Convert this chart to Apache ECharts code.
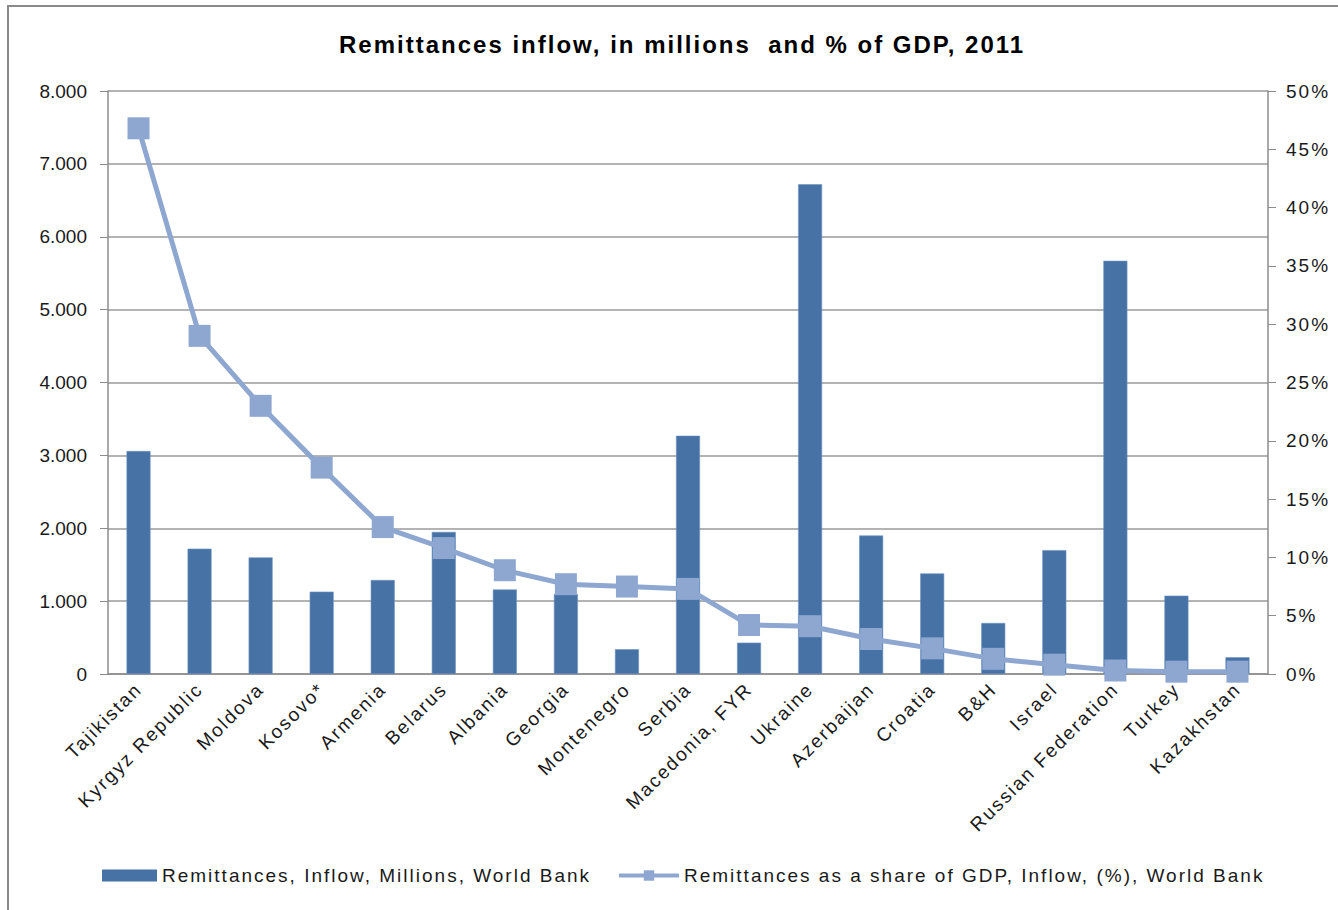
<!DOCTYPE html>
<html>
<head>
<meta charset="utf-8">
<title>Remittances inflow, 2011</title>
<script src="https://cdn.jsdelivr.net/npm/echarts@6/dist/echarts.min.js"></script>
<style>
  html, body { margin: 0; padding: 0; background: #ffffff; }
  #chart { width: 1338px; height: 910px; }
  /* loose Office-style tracking on titles, category names and legend */
  #chart text { letter-spacing: 2px; }
  /* value labels on the left axis keep normal tracking */
  #chart text[style*="Arial"], #chart text[font-family*="Arial"] { letter-spacing: 0; }
</style>
</head>
<body>
<div id="chart"></div>
<script>
// Countries, ordered by remittances as a share of GDP
const countries = [
  'Tajikistan', 'Kyrgyz Republic', 'Moldova', 'Kosovo*', 'Armenia', 'Belarus',
  'Albania', 'Georgia', 'Montenegro', 'Serbia', 'Macedonia, FYR', 'Ukraine',
  'Azerbaijan', 'Croatia', 'B&H', 'Israel', 'Russian Federation', 'Turkey', 'Kazakhstan'
];

// Remittances inflow, millions USD
const inflowMillions = [
  3060, 1720, 1600, 1130, 1290, 1950,
  1160, 1100, 340, 3270, 430, 6720,
  1900, 1380, 700, 1700, 5670, 1075, 230
];

// Remittances as a share of GDP, %
const shareOfGdp = [
  46.8, 29.0, 23.0, 17.7, 12.6, 10.8,
  8.9, 7.7, 7.5, 7.3, 4.2, 4.1,
  3.0, 2.2, 1.3, 0.8, 0.3, 0.2, 0.2
];

const seriesNames = [
  'Remittances, Inflow, Millions, World Bank',
  'Remittances as a share of GDP, Inflow, (%), World Bank'
];

const barColor = '#4672A6';
const lineColor = '#8EA7D1';
const textColor = '#1a1a1a';
const axisGray = '#8c8c8c';
const fontFamily = '"Liberation Sans", sans-serif';
const valueFont = 'Arial';

// 8000 -> "8.000"
function thousands(v) {
  return String(v).replace(/\B(?=(\d{3})+(?!\d))/g, '.');
}

const chart = echarts.init(document.getElementById('chart'), null, { renderer: 'svg' });

const legendText = { fontFamily: fontFamily, fontSize: 19, color: textColor };

chart.setOption({
  backgroundColor: '#ffffff',
  animation: false,
  textStyle: { fontFamily: fontFamily },
  graphic: [{
    type: 'rect',
    shape: { x: 8, y: 6, width: 1400, height: 1000 },
    style: { fill: 'none', stroke: '#8a8a8a', lineWidth: 2 },
    silent: true,
    z: -1
  }],
  title: {
    text: 'Remittances inflow, in millions  and % of GDP, 2011',
    left: 339,
    top: 32,
    padding: 0,
    textStyle: { fontFamily: fontFamily, fontSize: 24, fontWeight: 'bold', color: '#000' }
  },
  legend: [
    {
      left: 102,
      top: 866,
      padding: 0,
      itemWidth: 55,
      itemHeight: 12,
      textStyle: legendText,
      data: [{ name: seriesNames[0], icon: 'rect', itemStyle: { borderWidth: 0 } }]
    },
    {
      left: 617,
      top: 866,
      padding: 0,
      itemWidth: 60,
      itemHeight: 13,
      textStyle: legendText,
      data: [{ name: seriesNames[1], lineStyle: { width: 4 } }]
    }
  ],
  grid: { left: 108, right: 70, top: 91, bottom: 236, containLabel: false },
  xAxis: {
    type: 'category',
    data: countries,
    axisLine: { lineStyle: { color: axisGray, width: 1.5 } },
    axisTick: { show: false },
    axisLabel: {
      rotate: 45,
      interval: 0,
      margin: 12,
      fontFamily: fontFamily,
      fontSize: 19,
      color: textColor
    }
  },
  yAxis: [
    {
      type: 'value',
      min: 0,
      max: 8000,
      interval: 1000,
      axisLine: { show: true, lineStyle: { color: axisGray, width: 1.5 } },
      axisTick: { show: true, length: 8, lineStyle: { color: axisGray } },
      splitLine: { show: true, lineStyle: { color: '#9a9a9a', width: 1.5 } },
      axisLabel: {
        margin: 21,
        fontFamily: valueFont,
        fontSize: 19,
        color: textColor,
        formatter: thousands
      }
    },
    {
      type: 'value',
      min: 0,
      max: 50,
      interval: 5,
      position: 'right',
      axisLine: { show: true, lineStyle: { color: axisGray, width: 1.5 } },
      axisTick: { show: true, length: 8, lineStyle: { color: axisGray } },
      splitLine: { show: false },
      axisLabel: {
        margin: 18,
        fontFamily: fontFamily,
        fontSize: 19,
        color: textColor,
        formatter: '{value}%'
      }
    }
  ],
  series: [
    {
      name: seriesNames[0],
      type: 'bar',
      yAxisIndex: 0,
      data: inflowMillions,
      barWidth: 24,
      itemStyle: { color: barColor, borderColor: '#6f93c0', borderWidth: 0.6 },
      z: 2
    },
    {
      name: seriesNames[1],
      type: 'line',
      yAxisIndex: 1,
      data: shareOfGdp,
      symbol: 'rect',
      symbolSize: 22,
      lineStyle: { color: lineColor, width: 5 },
      itemStyle: { color: lineColor },
      z: 3
    }
  ]
});
</script>
</body>
</html>
